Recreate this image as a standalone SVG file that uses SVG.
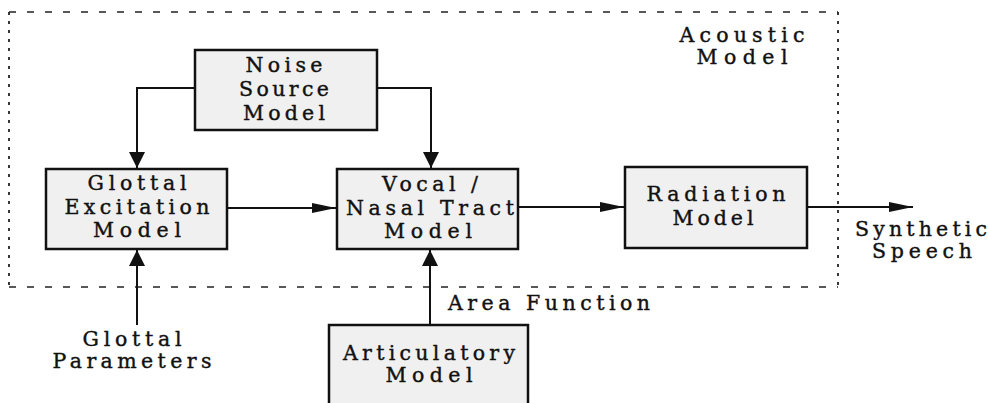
<svg xmlns="http://www.w3.org/2000/svg" width="988" height="403" viewBox="0 0 988 403">
<defs>
<style>
.box{fill:#f0f0f0;stroke:#111;stroke-width:2.5}
.t{font-family:"DejaVu Serif","Liberation Serif",serif;font-size:20.5px;fill:#111;stroke:#111;stroke-width:0.4;text-anchor:middle}
.ln{fill:none;stroke:#111;stroke-width:2}
.dh{stroke:#222;stroke-width:1.6;stroke-dasharray:7 11}
.dv{stroke:#222;stroke-width:1.8;stroke-dasharray:3 6}
</style>
<marker id="ah" markerUnits="userSpaceOnUse" markerWidth="24" markerHeight="12" refX="24" refY="5" orient="auto">
<path d="M0,0 L24,5 L0,10 z" fill="#111"/>
</marker>
<marker id="av" markerUnits="userSpaceOnUse" markerWidth="16" markerHeight="16" refX="16" refY="8" orient="auto">
<path d="M0,0 L16,8 L0,16 z" fill="#111"/>
</marker>
</defs>
<rect width="988" height="403" fill="#fff"/>
<g id="acoustic-model">
<line class="dh" x1="9" y1="12" x2="838" y2="12"/>
<line class="dh" x1="9" y1="287" x2="838" y2="287"/>
<line class="dv" x1="9" y1="12" x2="9" y2="287"/>
<line class="dv" x1="838" y1="12" x2="838" y2="287"/>
<text class="t" x="742" y="42" textLength="125" lengthAdjust="spacing">Acoustic</text>
<text class="t" x="742" y="64" textLength="91" lengthAdjust="spacing">Model</text>
</g>
<g id="connectors">
<polyline class="ln" points="195,88 137,88 137,168" marker-end="url(#av)"/>
<polyline class="ln" points="377,88 431,88 431,168" marker-end="url(#av)"/>
<line class="ln" x1="227" y1="208" x2="336" y2="208" marker-end="url(#ah)"/>
<line class="ln" x1="518" y1="207" x2="624" y2="207" marker-end="url(#ah)"/>
<line class="ln" x1="807" y1="207" x2="913" y2="207" marker-end="url(#ah)"/>
<line class="ln" x1="137" y1="325" x2="137" y2="250" marker-end="url(#av)"/>
<line class="ln" x1="430" y1="325" x2="430" y2="250" marker-end="url(#av)"/>
</g>
<g id="noise">
<rect class="box" x="195" y="50" width="182" height="80"/>
<text class="t" x="284" y="72" textLength="77" lengthAdjust="spacing">Noise</text>
<text class="t" x="284" y="96" textLength="90" lengthAdjust="spacing">Source</text>
<text class="t" x="284" y="120" textLength="82" lengthAdjust="spacing">Model</text>
</g>
<g id="glottal">
<rect class="box" x="46" y="169" width="181" height="80"/>
<text class="t" x="137" y="190" textLength="99" lengthAdjust="spacing">Glottal</text>
<text class="t" x="137" y="214" textLength="145" lengthAdjust="spacing">Excitation</text>
<text class="t" x="137" y="237" textLength="88" lengthAdjust="spacing">Model</text>
</g>
<g id="vocal">
<rect class="box" x="337" y="169" width="181" height="80"/>
<text class="t" x="430" y="191" textLength="96" lengthAdjust="spacing">Vocal /</text>
<text class="t" x="430" y="215" textLength="168" lengthAdjust="spacing">Nasal Tract</text>
<text class="t" x="428" y="238" textLength="88" lengthAdjust="spacing">Model</text>
</g>
<g id="radiation">
<rect class="box" x="625" y="167" width="182" height="81"/>
<text class="t" x="716" y="201" textLength="139" lengthAdjust="spacing">Radiation</text>
<text class="t" x="713" y="225" textLength="81" lengthAdjust="spacing">Model</text>
</g>
<g id="articulatory">
<rect class="box" x="329" y="325" width="199" height="90"/>
<text class="t" x="429" y="360" textLength="172" lengthAdjust="spacing">Articulatory</text>
<text class="t" x="429" y="382" textLength="87" lengthAdjust="spacing">Model</text>
</g>
<g id="synthetic-speech">
<text class="t" x="921" y="236" textLength="132" lengthAdjust="spacing">Synthetic</text>
<text class="t" x="922" y="258" textLength="100" lengthAdjust="spacing">Speech</text>
</g>
<g id="glottal-parameters">
<text class="t" x="132" y="346" textLength="99" lengthAdjust="spacing">Glottal</text>
<text class="t" x="132" y="368" textLength="159" lengthAdjust="spacing">Parameters</text>
</g>
<g id="area-function">
<text class="t" x="448" y="310" textLength="202" lengthAdjust="spacing" style="text-anchor:start">Area Function</text>
</g>
</svg>
